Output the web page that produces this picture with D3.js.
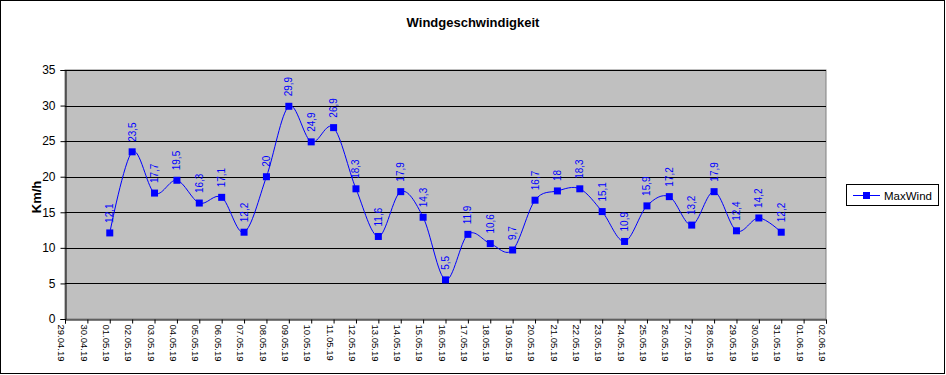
<!DOCTYPE html>
<html>
<head>
<meta charset="utf-8">
<script src="https://cdn.jsdelivr.net/npm/d3@7"></script>
<style>
  body { margin: 0; background: #fff; }
  svg { display: block; font-family: "Liberation Sans", Arial, sans-serif; }
</style>
</head>
<body>
<svg id="chart" width="946" height="375"></svg>
<script>
// x axis tick labels (all days shown)
let tickDays = ["29.04.19","30.04.19","01.05.19","02.05.19","03.05.19","04.05.19","05.05.19","06.05.19",
  "07.05.19","08.05.19","09.05.19","10.05.19","11.05.19","12.05.19","13.05.19","14.05.19","15.05.19",
  "16.05.19","17.05.19","18.05.19","19.05.19","20.05.19","21.05.19","22.05.19","23.05.19","24.05.19",
  "25.05.19","26.05.19","27.05.19","28.05.19","29.05.19","30.05.19","31.05.19","01.06.19","02.06.19"];

// days that carry a value
let days = tickDays.slice(2, 33);
let maxWind = [12.1, 23.5, 17.7, 19.5, 16.3, 17.1, 12.2, 20, 29.9, 24.9, 26.9, 18.3, 11.6, 17.9, 14.3,
  5.5, 11.9, 10.6, 9.7, 16.7, 18, 18.3, 15.1, 10.9, 15.9, 17.2, 13.2, 17.9, 12.4, 14.2, 12.2];

let yTicks = [0, 5, 10, 15, 20, 25, 30, 35];

let svg = d3.select("#chart");
let plot = {left: 65, right: 826, top: 70, bottom: 319};

// outer frame
svg.append("rect")
    .attr("x", 0.5).attr("y", 0.5)
    .attr("width", 944).attr("height", 373)
    .attr("fill", "#fff").attr("stroke", "#000");

let x = d3.scalePoint().domain(tickDays).range([plot.left, plot.right]);
let y = d3.scaleLinear().domain([0, 35]).range([plot.bottom, plot.top]);

// plot area
svg.append("rect")
    .attr("x", plot.left).attr("y", plot.top)
    .attr("width", plot.right - plot.left).attr("height", plot.bottom - plot.top)
    .attr("fill", "#c0c0c0").attr("stroke", "#808080");

// grid lines
svg.append("g").selectAll("line")
    .data(yTicks.slice(1))
    .join("line")
    .attr("x1", plot.left).attr("x2", plot.right)
    .attr("y1", d => Math.round(y(d)) + 0.5).attr("y2", d => Math.round(y(d)) + 0.5)
    .attr("stroke", "#000");

// y axis
let yAxis = svg.append("g")
    .attr("transform", `translate(${plot.left + 0.5},0)`)
    .call(d3.axisLeft(y).tickValues(yTicks).tickSize(5).tickPadding(5));
yAxis.select(".domain").attr("stroke", "#000");
yAxis.selectAll("text").attr("font-size", 12).attr("fill", "#000")
    .attr("font-family", "Liberation Sans, Arial, sans-serif");

// x axis
let xAxis = svg.append("g")
    .attr("transform", `translate(0,${plot.bottom + 0.5})`)
    .call(d3.axisBottom(x).tickSize(4).tickPadding(0));
xAxis.select(".domain").attr("stroke", "#000");
xAxis.selectAll("text")
    .attr("font-size", 9.5).attr("fill", "#000")
    .attr("font-family", "Liberation Sans, Arial, sans-serif")
    .attr("text-anchor", "start")
    .attr("dy", "0.35em")
    .attr("transform", "translate(0,5) rotate(90)");

// line
let line = d3.line()
    .x((d, i) => x(days[i]))
    .y(d => y(d))
    .curve(d3.curveCatmullRom.alpha(0));

svg.append("path")
    .datum(maxWind)
    .attr("d", line)
    .attr("fill", "none")
    .attr("stroke", "#0000ff")
    .attr("stroke-width", 1);

// markers
svg.append("g").selectAll("rect")
    .data(maxWind)
    .join("rect")
    .attr("x", (d, i) => x(days[i]) - 3.5)
    .attr("y", d => y(d) - 3.5)
    .attr("width", 7).attr("height", 7)
    .attr("fill", "#0000ff");

// data labels
svg.append("g").selectAll("text")
    .data(maxWind)
    .join("text")
    .attr("transform", (d, i) => `translate(${x(days[i]) + 3.5},${y(d) - 10}) rotate(-90)`)
    .attr("font-size", 10)
    .attr("fill", "#0000ff")
    .text(d => String(d).replace(".", ","));

// title
svg.append("text")
    .attr("x", 473).attr("y", 27)
    .attr("text-anchor", "middle")
    .attr("font-size", 13).attr("font-weight", "bold")
    .text("Windgeschwindigkeit");

// y axis title
svg.append("text")
    .attr("transform", "translate(41,197) rotate(-90)")
    .attr("text-anchor", "middle")
    .attr("font-size", 13).attr("font-weight", "bold")
    .text("Km/h");

// legend
let legend = svg.append("g");
legend.append("rect")
    .attr("x", 846.5).attr("y", 184.5)
    .attr("width", 92).attr("height", 21)
    .attr("fill", "#fff").attr("stroke", "#000");
legend.append("line")
    .attr("x1", 853).attr("x2", 880).attr("y1", 195.5).attr("y2", 195.5)
    .attr("stroke", "#0000ff");
legend.append("rect")
    .attr("x", 863).attr("y", 192).attr("width", 7).attr("height", 7)
    .attr("fill", "#0000ff");
legend.append("text")
    .attr("x", 884).attr("y", 199.5)
    .attr("font-size", 11.5)
    .text("MaxWind");
</script>
</body>
</html>
